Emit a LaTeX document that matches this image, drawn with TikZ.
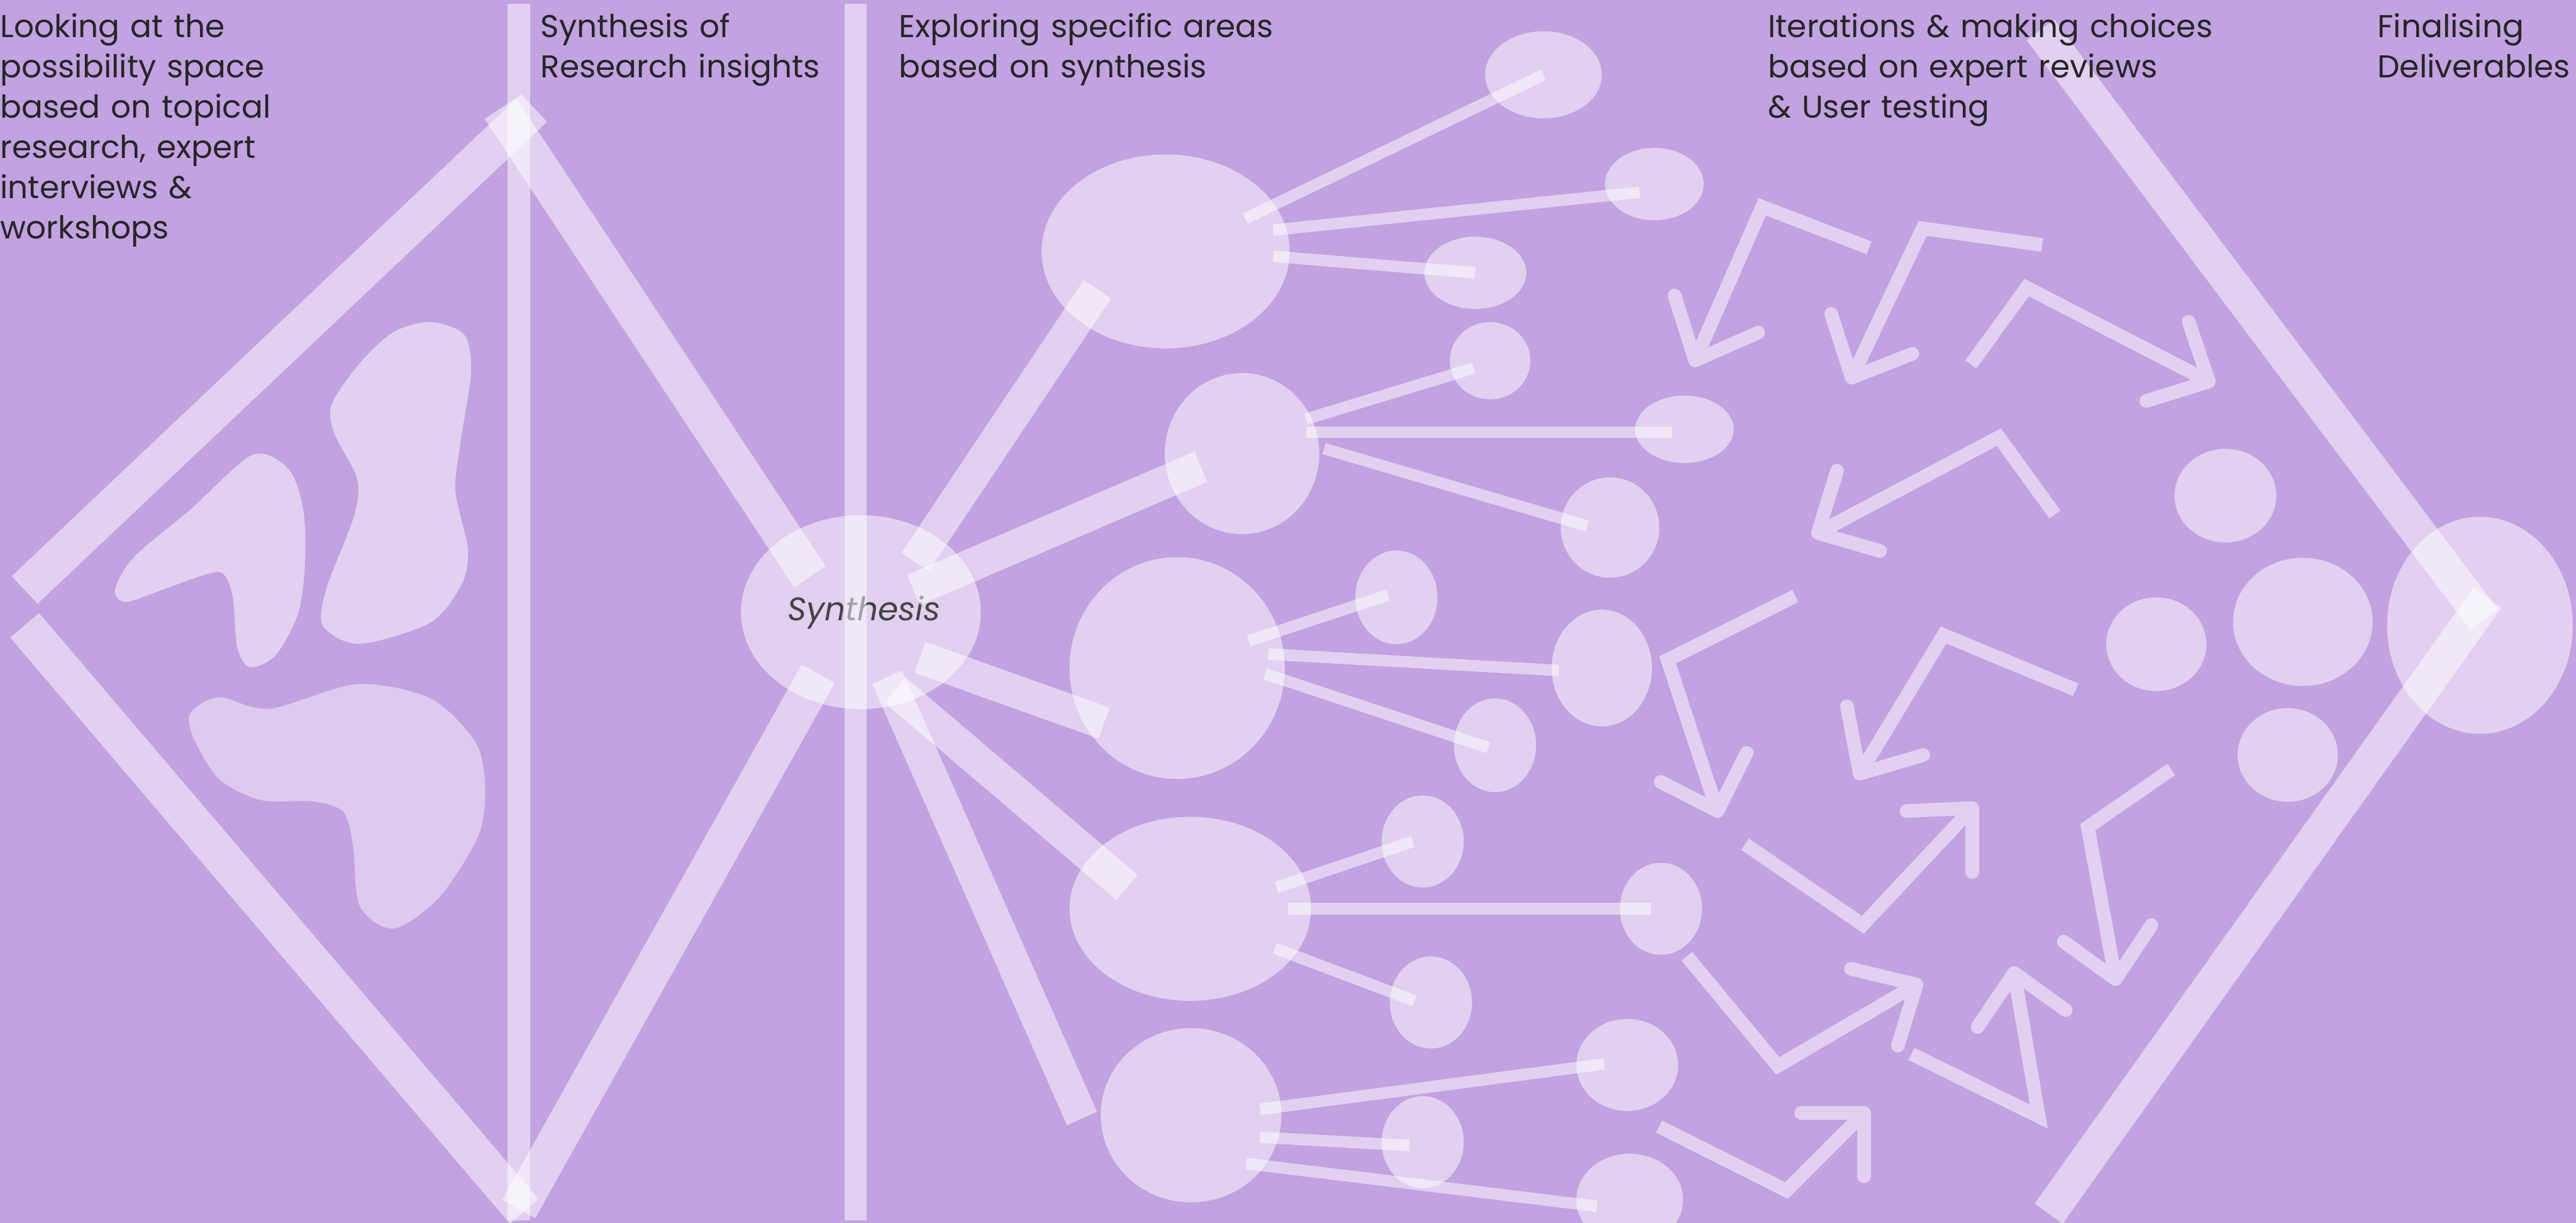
\documentclass[tikz,border=0pt]{standalone}
\usepackage{fontspec}
\setmainfont{Poppins}
\usepackage{xcolor}
\usepackage{tikz}
\usetikzlibrary{shapes.geometric, positioning}

\definecolor{lilac}{HTML}{C3A2E1}
\definecolor{ink}{HTML}{262626}
\definecolor{greyink}{HTML}{444444}
\colorlet{arrowcol}{lilac!50!white}

\begin{document}
\begin{tikzpicture}[x=1pt, y=-1pt, heading/.style={anchor=base west, inner sep=0, text width=320pt, align=left, text=ink, font=\fontsize{19.2}{24.5}\selectfont}, bubble/.style={ellipse, fill=white, fill opacity=0.5, inner sep=0}, blob/.style={fill=white, fill opacity=0.5}, pillar/.style={draw=white, draw opacity=0.5, line width=13.5pt}, edge/.style={draw=white, draw opacity=0.5, line width=23pt}, spoke/.style={draw=white, draw opacity=0.5, line width=20pt}, twig/.style={draw=white, draw opacity=0.5, line width=7pt}, stem/.style={draw=arrowcol, line width=8.3pt, line join=miter}, head/.style={draw=arrowcol, line width=8.3pt, line cap=round, line join=round}]

    \useasboundingbox (0,0) rectangle (1568,744);
    \fill[lilac] (0,0) rectangle (1568,744);

    %Blobs
    \fill[blob] plot[smooth cycle] coordinates {(153.8,276.7) (176,286) (184.7,311) (185.6,343.8) (181.3,373.9) (167.6,398.9) (152,406) (144.4,393.8) (141.8,363.7) (136.7,350) (128,348.7) (99,358.8) (76.6,366.3) (70,358.7) (81.8,338.7) (116,310)};
    \fill[blob] plot[smooth cycle] coordinates {(262,196) (282.5,203.6) (286.8,226) (280.8,266) (277,296) (280.8,316) (285,336) (280.8,356) (262,378.8) (219,391.8) (196.7,381) (198.5,358.8) (215.6,313.7) (217.3,291) (203.5,263.7) (201.9,246) (219,221) (239.6,202)};
    \fill[blob, fill opacity=0.44] plot[smooth cycle] coordinates {(116,433.8) (133.3,424.3) (164,431.3) (217.3,416.3) (262,425) (289.3,451.4) (295.3,479) (291,509) (267,546.4) (239.6,565) (219,551.4) (214.8,514) (208.8,493.8) (190,487.6) (159,486.9) (133.3,474) (117.8,449)};

    %Nodes
    \node[bubble, minimum width=146pt, minimum height=118pt, text opacity=1, text=greyink, font=\itshape\fontsize{19.8}{23}\selectfont](synth) at (524,372.5){\hspace{4pt}Synthesis};
    \node[bubble, minimum width=151pt, minimum height=118pt](area1) at (709.5,153){};
    \node[bubble, minimum width=94pt, minimum height=98pt](area2) at (756,276){};
    \node[bubble, minimum width=131pt, minimum height=135pt](area3) at (716.5,406.5){};
    \node[bubble, minimum width=147pt, minimum height=112pt](area4) at (724.5,553){};
    \node[bubble, minimum width=110pt, minimum height=106pt](area5) at (725,678.6){};
    \node[bubble, minimum width=71pt, minimum height=53pt](idea1a) at (939.5,45.5){};
    \node[bubble, minimum width=60pt, minimum height=44pt](idea1b) at (1007,112){};
    \node[bubble, minimum width=62pt, minimum height=44pt](idea1c) at (898,166){};
    \node[bubble, minimum width=49pt, minimum height=47pt](idea2a) at (907,219.5){};
    \node[bubble, minimum width=60pt, minimum height=41pt](idea2b) at (1025.3,261.2){};
    \node[bubble, minimum width=60pt, minimum height=61pt](idea2c) at (980,321){};
    \node[bubble, minimum width=50pt, minimum height=57pt](idea3a) at (850,363.5){};
    \node[bubble, minimum width=61pt, minimum height=71pt](idea3b) at (975,406.5){};
    \node[bubble, minimum width=50pt, minimum height=57pt](idea3c) at (910,453.5){};
    \node[bubble, minimum width=50pt, minimum height=56pt](idea4a) at (866,512){};
    \node[bubble, minimum width=50pt, minimum height=56pt](idea4b) at (1011,553){};
    \node[bubble, minimum width=50pt, minimum height=56pt](idea4c) at (871,610){};
    \node[bubble, minimum width=62pt, minimum height=56pt](idea5a) at (990.5,648){};
    \node[bubble, minimum width=50pt, minimum height=56pt](idea5b) at (866,695){};
    \node[bubble, minimum width=65pt, minimum height=56pt](idea5c) at (992,730){};
    \node[bubble, minimum width=62pt, minimum height=57pt](pick1) at (1354.6,301.6){};
    \node[bubble, minimum width=85pt, minimum height=78pt](pick2) at (1401.7,378.4){};
    \node[bubble, minimum width=61pt, minimum height=57pt](pick3) at (1312.5,392){};
    \node[bubble, minimum width=61pt, minimum height=57pt](pick4) at (1392.5,459.4){};
    \node[bubble, minimum width=113pt, minimum height=132pt](final) at (1509.5,380.5){};

    %Ends
    \coordinate (left_top) at (325.1,65.7);
    \coordinate (left_mid_a) at (15,359);
    \coordinate (left_mid_b) at (15,380.5);
    \coordinate (left_bot) at (319,737);
    \coordinate (top_in) at (304.6,66);
    \coordinate (bot_in) at (315.7,735.7);
    \coordinate (synth_in_a) at (493,351);
    \coordinate (synth_in_b) at (498,410);
    \coordinate (synth_out1) at (557,342);
    \coordinate (synth_out2) at (556,359);
    \coordinate (synth_out3) at (560,400);
    \coordinate (synth_out4) at (545,420);
    \coordinate (synth_out5) at (540,412);
    \coordinate (area1_in) at (668,176);
    \coordinate (area2_in) at (731,284);
    \coordinate (area3_in) at (672,440);
    \coordinate (area4_in) at (686,540);
    \coordinate (area5_in) at (658.6,680.6);
    \coordinate (right_top) at (1242,18.2);
    \coordinate (right_bot) at (1247,738.5);
    \coordinate (final_in_a) at (1512,377);
    \coordinate (final_in_b) at (1514,363.7);

    %Lines
    \draw[pillar] (315.8,2.3) -- (315.8,742.6);
    \draw[pillar] (520.7,2.3) -- (520.7,742.6);
    \draw[edge] (left_mid_a) -- (left_top);
    \draw[edge] (left_mid_b) -- (left_bot);
    \draw[edge] (top_in) -- (synth_in_a);
    \draw[edge] (bot_in) -- (synth_in_b);
    \draw[spoke] (synth_out1) -- (area1_in);
    \draw[spoke] (synth_out2) -- (area2_in);
    \draw[spoke] (synth_out3) -- (area3_in);
    \draw[spoke] (synth_out4) -- (area4_in);
    \draw[spoke] (synth_out5) -- (area5_in);
    \draw[twig] (758,133) -- (idea1a.center);
    \draw[twig] (775,140) -- (998,117);
    \draw[twig] (775,156) -- (idea1c.center);
    \draw[twig] (795,255) -- (897,224);
    \draw[twig] (795,263) -- (1018,263);
    \draw[twig] (806,273) -- (966,320);
    \draw[twig] (760,390) -- (845,362);
    \draw[twig] (772,398) -- (949,408);
    \draw[twig] (770,410) -- (906,455);
    \draw[twig] (777,540) -- (860,512);
    \draw[twig] (784,553) -- (1005,553);
    \draw[twig] (776,577) -- (861,609);
    \draw[twig] (767,675) -- (976.5,647.4);
    \draw[twig] (767,692) -- (858,697);
    \draw[twig] (758.6,708) -- (972,734);
    \draw[edge, line width=21pt] (right_top) -- (final_in_a);
    \draw[edge, line width=21pt] (right_bot) -- (final_in_b);

    %Arrows
    \draw[stem] (1137.7,150.8) -- (1072.6,125.8) -- (1031.8,219.3);
    \draw[head] (1019.3,179.8) -- (1031.8,219.3) -- (1070.2,202.4);
    \draw[stem] (1243,149) -- (1170.3,139) -- (1127.1,229.8);
    \draw[head] (1114.6,191) -- (1127.1,229.8) -- (1164,215.3);
    \draw[stem] (1199.6,221.8) -- (1233.6,175) -- (1344.5,232.1);
    \draw[head] (1332.2,195.7) -- (1344.5,232.1) -- (1306.4,244);
    \draw[stem] (1250.8,313) -- (1216.7,266) -- (1106.5,324.3);
    \draw[head] (1118.2,286.4) -- (1106.5,324.3) -- (1144.4,335.3);
    \draw[stem] (1092.8,362.6) -- (1015,401.5) -- (1045.5,493.5);
    \draw[head] (1010.9,475.8) -- (1045.5,493.5) -- (1063.2,458.1);
    \draw[stem] (1263.5,419.7) -- (1183,386.4) -- (1132,470.8);
    \draw[head] (1124.2,429.8) -- (1132,470.8) -- (1170.7,459.4);
    \draw[stem] (1062.2,513.7) -- (1133.9,562.7) -- (1200.5,491.7);
    \draw[head] (1160.5,493.5) -- (1200.5,491.7) -- (1200.5,530.6);
    \draw[stem] (1321.6,468.2) -- (1270.8,503.3) -- (1287.7,595.8);
    \draw[head] (1256.2,573) -- (1287.7,595.8) -- (1309.5,563);
    \draw[stem] (1026.8,581.9) -- (1082.1,648.6) -- (1166.6,599.1);
    \draw[head] (1126.7,589.5) -- (1166.6,599.1) -- (1155.2,636.2);
    \draw[stem] (1163.5,641.3) -- (1241,679.4) -- (1226,592);
    \draw[head] (1203.7,624.9) -- (1226,592) -- (1257.4,614.7);
    \draw[stem] (1009.9,685.5) -- (1087.4,724.4) -- (1134.6,677.2);
    \draw[head] (1096.4,677.2) -- (1134.6,677.2) -- (1134.6,715.8);

    %Headings
    \node[heading](explore_text) at (0,22.7){Looking at the\\possibility space\\based on topical\\research, expert\\interviews \&\\workshops};
    \node[heading](synth_text) at (329,22.7){Synthesis of\\Research insights};
    \node[heading](areas_text) at (547,22.7){Exploring specific areas\\based on synthesis};
    \node[heading](iterate_text) at (1076,22.7){Iterations \& making choices\\based on expert reviews\\\& User testing};
    \node[heading](final_text) at (1447,22.7){Finalising\\Deliverables};
\end{tikzpicture}
\end{document}
